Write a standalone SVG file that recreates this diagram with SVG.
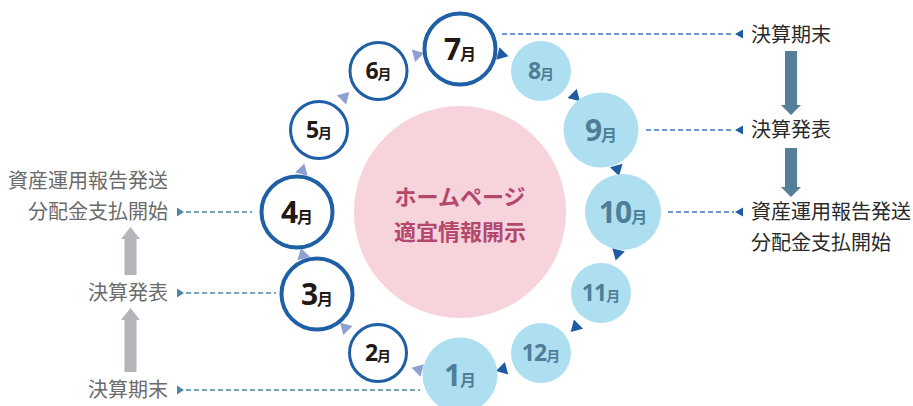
<svg xmlns="http://www.w3.org/2000/svg" xmlns:xlink="http://www.w3.org/1999/xlink" width="913" height="406" viewBox="0 0 913 406">
<style>
.lbl{font-family:"Noto Sans CJK JP","Noto Sans",sans-serif;font-size:20px}
.lblL{fill:#6b6b6b}
.lblR{fill:#2a2a2a}
.ctr{font-family:"Noto Sans CJK JP",sans-serif;font-size:22px;font-weight:bold;fill:#b4486c}
.ring{fill:#fff;stroke:#1f5fa6}
.fill{fill:#addff0}
.t{font-family:"Noto Sans","Noto Sans CJK JP",sans-serif;font-weight:bold;text-anchor:middle}
.dk{fill:#231815}
.lt{fill:#4f7f98}
.nb{font-size:30px;letter-spacing:-1px}
.mb{font-size:16px}
.ns{font-size:23px;letter-spacing:-1px}
.ms{font-size:14px}
.lav{fill:#8ea0d2}
.dkb{fill:#1e5ba3}
.dashL{stroke:#4b86a2;stroke-width:1.3;stroke-dasharray:5 3;fill:none}
.dashR{stroke:#3a79c2;stroke-width:1.3;stroke-dasharray:5 3;fill:none}
.gray{fill:#b4b5b9}
.steel{fill:#557f97}
</style>
<defs>
<path id="tri" d="M6.5,0 L-4.5,-6.5 L-4.5,6.5 Z"/>
</defs>
<g id="center">
<circle cx="460" cy="212" r="106" fill="#f7d3dc"/>
<text class="ctr" x="460" y="205" text-anchor="middle">ホームページ</text>
<text class="ctr" x="460" y="240" text-anchor="middle">適宜情報開示</text>
</g>
<g id="connectors">
<use xlink:href="#tri" class="lav" transform="translate(417.8,369.4) rotate(195)"/>
<use xlink:href="#tri" class="lav" transform="translate(344.7,327.3) rotate(225)"/>
<use xlink:href="#tri" class="lav" transform="translate(302.6,254.2) rotate(255)"/>
<use xlink:href="#tri" class="lav" transform="translate(302.6,169.8) rotate(285)"/>
<use xlink:href="#tri" class="lav" transform="translate(344.7,96.7) rotate(315)"/>
<use xlink:href="#tri" class="lav" transform="translate(417.8,54.6) rotate(345)"/>
<use xlink:href="#tri" class="dkb" transform="translate(502.2,54.6) rotate(15)"/>
<use xlink:href="#tri" class="dkb" transform="translate(575.3,96.7) rotate(45)"/>
<use xlink:href="#tri" class="dkb" transform="translate(617.4,169.8) rotate(75)"/>
<use xlink:href="#tri" class="dkb" transform="translate(617.4,254.2) rotate(105)"/>
<use xlink:href="#tri" class="dkb" transform="translate(575.3,327.3) rotate(135)"/>
<use xlink:href="#tri" class="dkb" transform="translate(502.2,369.4) rotate(165)"/>
<path class="dashL" d="M186,212 H252 M186,293 H276 M186,390 H420"/>
<path fill="#4b86a2" d="M177,207.5 L184,212 L177,216.5 Z M177,288.5 L184,293 L177,297.5 Z M177,385.5 L184,390 L177,394.5 Z"/>
<path class="dashR" d="M502,34 H734 M646,130 H734 M668,212 H734"/>
<path class="dkb" d="M743,29.5 L735,34 L743,38.5 Z M743,125.5 L735,130 L743,134.5 Z M743,207.5 L735,212 L743,216.5 Z"/>
<path class="gray" d="M130.5,227 L140,239 L136.5,239 L136.5,275 L124.5,275 L124.5,239 L121,239 Z"/>
<path class="gray" d="M130.5,308 L140,320 L136.5,320 L136.5,372 L124.5,372 L124.5,320 L121,320 Z"/>
<path class="steel" d="M785,51 H797 V105 H801 L791,115 L781,105 H785 Z"/>
<path class="steel" d="M785,148 H797 V187 H801 L791,197 L781,187 H785 Z"/>
</g>
<g id="labels-left">
<text class="lbl lblL" x="168" y="188" text-anchor="end">資産運用報告発送</text>
<text class="lbl lblL" x="168" y="219" text-anchor="end">分配金支払開始</text>
<text class="lbl lblL" x="168" y="300" text-anchor="end">決算発表</text>
<text class="lbl lblL" x="168" y="397" text-anchor="end">決算期末</text>
</g>
<g id="labels-right">
<text class="lbl lblR" x="751" y="42">決算期末</text>
<text class="lbl lblR" x="751" y="137">決算発表</text>
<text class="lbl lblR" x="751" y="219">資産運用報告発送</text>
<text class="lbl lblR" x="751" y="250">分配金支払開始</text>
</g>
<g id="m7"><circle class="ring" cx="460" cy="49" r="35.5" stroke-width="4"/><text class="t dk" x="460" y="60"><tspan class="nb">7</tspan><tspan class="mb">月</tspan></text></g>
<g id="m8"><circle class="fill" cx="541" cy="71" r="30"/><text class="t lt" x="541" y="79"><tspan class="ns">8</tspan><tspan class="ms">月</tspan></text></g>
<g id="m9"><circle class="fill" cx="601" cy="130" r="37.5"/><text class="t lt" x="601" y="141"><tspan class="nb">9</tspan><tspan class="mb">月</tspan></text></g>
<g id="m10"><circle class="fill" cx="623" cy="212" r="38"/><text class="t lt" x="623" y="223"><tspan class="nb">10</tspan><tspan class="mb">月</tspan></text></g>
<g id="m11"><circle class="fill" cx="601" cy="293" r="30"/><text class="t lt" x="601" y="301"><tspan class="ns">11</tspan><tspan class="ms">月</tspan></text></g>
<g id="m12"><circle class="fill" cx="541" cy="353" r="30"/><text class="t lt" x="541" y="361"><tspan class="ns">12</tspan><tspan class="ms">月</tspan></text></g>
<g id="m1"><circle class="fill" cx="460" cy="375" r="37.5"/><text class="t lt" x="460" y="386"><tspan class="nb">1</tspan><tspan class="mb">月</tspan></text></g>
<g id="m2"><circle class="ring" cx="378" cy="353" r="28.5" stroke-width="3"/><text class="t dk" x="378" y="361"><tspan class="ns">2</tspan><tspan class="ms">月</tspan></text></g>
<g id="m3"><circle class="ring" cx="317" cy="294" r="35.5" stroke-width="4"/><text class="t dk" x="317" y="305"><tspan class="nb">3</tspan><tspan class="mb">月</tspan></text></g>
<g id="m4"><circle class="ring" cx="297" cy="212" r="35.5" stroke-width="4"/><text class="t dk" x="297" y="223"><tspan class="nb">4</tspan><tspan class="mb">月</tspan></text></g>
<g id="m5"><circle class="ring" cx="319" cy="130" r="28.5" stroke-width="3"/><text class="t dk" x="319" y="138"><tspan class="ns">5</tspan><tspan class="ms">月</tspan></text></g>
<g id="m6"><circle class="ring" cx="378.5" cy="71" r="28.5" stroke-width="3"/><text class="t dk" x="378.5" y="79"><tspan class="ns">6</tspan><tspan class="ms">月</tspan></text></g>
</svg>
